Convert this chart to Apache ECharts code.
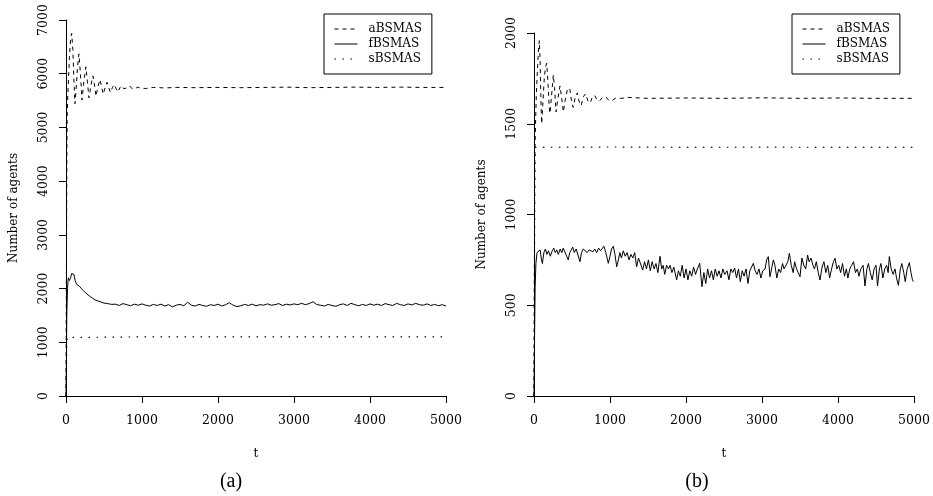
<!DOCTYPE html>
<html><head><meta charset="utf-8">
<script src="https://cdn.jsdelivr.net/npm/echarts@6/dist/echarts.min.js"></script>
<style>html,body{margin:0;padding:0;background:#fff}#c{width:933px;height:496px}</style>
</head><body><div id="c"></div>
<script>
// ---------- Panel (a) ----------
const aA_t = [0,5,10,15,20,30,45,60,75,90,105,118,135,150,170,190,210,235,262,282,302,330,355,375,395,420,447,468,490,515,540,562,585,610,635,660,685,710,735,760,785,810,840,870,900,940,980,1050,1150,1300,1450,1700,2000,2300,2600,2900,3200,3500,3800,4100,4400,4700,5000];
const aA_v = [0,2000,4200,5200,5450,5800,6300,6650,6750,6450,5850,5440,5750,6100,6370,6000,5510,5850,6130,5850,5550,5800,5960,5790,5580,5760,5890,5760,5620,5740,5840,5740,5650,5740,5800,5720,5660,5740,5780,5720,5690,5740,5770,5720,5710,5750,5730,5725,5745,5735,5745,5740,5745,5740,5745,5750,5740,5745,5750,5745,5750,5745,5745];

const aF_t = [0,5,10,20,30,45,60,75,90,105,120,140,160,180,200,230,260,290,320,350,380,420,460,500,550,600,650,700,750,800,850,900,950,1000,1050,1100,1150,1200,1250,1300,1350,1400,1450,1500,1550,1600,1650,1700,1750,1800,1850,1900,1950,2000,2050,2100,2150,2200,2250,2300,2350,2400,2450,2500,2550,2600,2650,2700,2750,2800,2850,2900,2950,3000,3050,3100,3150,3200,3250,3300,3350,3400,3450,3500,3550,3600,3650,3700,3750,3800,3850,3900,3950,4000,4050,4100,4150,4200,4250,4300,4350,4400,4450,4500,4550,4600,4650,4700,4750,4800,4850,4900,4950,5000];
const aF_v = [0,600,1500,2000,2200,2150,2200,2280,2300,2260,2150,2080,2060,2040,2000,1960,1920,1880,1850,1820,1790,1770,1750,1730,1720,1705,1710,1685,1720,1700,1680,1710,1690,1715,1690,1675,1705,1685,1710,1675,1700,1660,1690,1705,1680,1745,1690,1675,1705,1685,1670,1700,1685,1710,1675,1700,1735,1690,1665,1680,1705,1685,1710,1680,1700,1690,1715,1690,1700,1720,1685,1710,1695,1715,1700,1725,1700,1720,1755,1700,1690,1675,1705,1685,1670,1700,1715,1685,1725,1700,1680,1705,1685,1715,1690,1710,1685,1720,1700,1685,1725,1700,1685,1715,1695,1725,1700,1690,1715,1685,1705,1680,1700,1675];

const aS_t = [0,5,10,15,20,1000,2000,3000,4000,5000];
const aS_v = [0,500,1000,1090,1100,1100,1100,1100,1100,1100];

// ---------- Panel (b) ----------
const bA_t = [0,5,10,20,30,45,60,70,80,92,101,115,135,150,167,185,200,210,230,254,270,290,315,342,362,386,410,440,470,495,515,545,570,595,620,650,680,710,740,770,800,830,860,900,940,980,1020,1070,1150,1250,1500,2000,2500,3000,3500,4000,4500,5000];
const bA_v = [0,700,1300,1500,1650,1800,1920,1958,1850,1620,1500,1600,1750,1810,1833,1720,1590,1557,1650,1769,1700,1565,1640,1708,1650,1565,1630,1690,1695,1620,1590,1650,1670,1620,1600,1650,1665,1625,1615,1650,1655,1630,1625,1645,1648,1632,1625,1640,1640,1645,1640,1642,1640,1643,1640,1642,1640,1640];

const bF_t = [0,8,15,25,40,60,80,95,110,130,150,170,190,215,240,260,280,300,320,345,365,385,405,430,450,470,490,510,530,555,580,605,625,650,675,700,725,750,775,800,825,850,875,900,920,945,978,1000,1020,1044,1065,1088,1110,1130,1150,1175,1200,1225,1250,1275,1300,1325,1350,1375,1400,1430,1455,1480,1505,1530,1555,1580,1605,1630,1658,1680,1700,1720,1745,1770,1790,1815,1840,1877,1900,1925,1950,1975,2000,2025,2050,2075,2100,2125,2150,2180,2210,2235,2260,2285,2310,2335,2360,2385,2410,2435,2460,2485,2510,2540,2565,2590,2615,2640,2665,2690,2715,2740,2765,2790,2815,2840,2865,2886,2910,2935,2960,2985,3010,3040,3061,3083,3105,3125,3150,3170,3195,3220,3245,3270,3290,3315,3340,3360,3385,3410,3430,3455,3480,3500,3525,3550,3575,3600,3620,3645,3670,3690,3715,3740,3763,3790,3815,3840,3865,3890,3915,3940,3961,3985,4010,4035,4060,4085,4110,4130,4155,4180,4205,4230,4255,4275,4300,4330,4355,4380,4400,4425,4450,4475,4500,4520,4545,4565,4590,4615,4640,4660,4675,4700,4725,4750,4770,4795,4820,4840,4865,4885,4910,4939,4960,4980,4991];
const bF_v = [0,350,600,730,790,800,805,760,730,790,810,780,800,770,800,815,790,805,780,810,790,815,795,800,750,790,800,820,790,810,800,740,790,810,820,790,805,815,795,810,790,815,800,795,825,790,731,770,810,825,780,712,750,790,760,800,770,790,750,780,760,790,712,760,750,694,740,700,750,690,740,700,730,680,770,700,720,670,720,700,720,680,710,640,690,660,720,650,700,640,690,660,710,670,700,731,602,680,620,700,650,690,640,700,660,690,650,700,670,690,640,700,680,705,650,700,630,690,660,700,620,690,700,731,690,670,700,650,690,700,750,768,657,700,750,720,650,700,680,730,700,690,740,786,720,680,740,700,690,657,760,720,700,777,740,760,720,700,740,680,639,710,740,680,720,650,700,740,759,700,720,680,730,660,700,650,700,720,740,680,700,660,700,720,606,700,730,680,640,700,720,606,700,730,650,700,720,680,768,700,670,700,650,610,700,730,680,630,700,735,680,640,630];

const bS_t = [0,5,10,15,20,1000,2000,3000,4000,5000];
const bS_v = [0,500,1100,1330,1370,1372,1370,1371,1370,1370];

const seriesNames = ['aBSMAS','fBSMAS','sBSMAS'];
const xTicksMax = 5000, xStep = 1000;
const yMaxA = 7000, yStepA = 1000;
const yMaxB = 2000, yStepB = 500;

const zip = (t, v) => t.map((x, i) => [x, v[i]]);
const FONT = 'DejaVu Serif';
const plain = v => String(v);
const styles = {
  aBSMAS: {type: [4, 4], width: 1},
  fBSMAS: {type: 'solid', width: 1},
  sBSMAS: {type: [1.5, 6.5], width: 1.2}
};

function mkX(gi) {
  return {
    gridIndex: gi, type: 'value', min: 0, max: xTicksMax, interval: xStep,
    axisLine: {show: true, lineStyle: {color: '#000', width: 1}},
    axisTick: {show: true, length: 7, lineStyle: {color: '#000', width: 1}},
    splitLine: {show: false},
    axisLabel: {fontFamily: FONT, fontSize: 12.5, color: '#000', margin: 18, formatter: plain},
    name: 't', nameLocation: 'middle', nameGap: 52,
    nameTextStyle: {fontFamily: FONT, fontSize: 12, color: '#000'}
  };
}
function mkY(gi, max, step) {
  return {
    gridIndex: gi, type: 'value', min: 0, max: max, interval: step,
    axisLine: {show: true, lineStyle: {color: '#000', width: 1}},
    axisTick: {show: true, length: 7, lineStyle: {color: '#000', width: 1}},
    splitLine: {show: false},
    axisLabel: {fontFamily: FONT, fontSize: 12.5, color: '#000', margin: 16, rotate: 90, formatter: plain},
    name: 'Number of agents', nameLocation: 'middle', nameGap: 46,
    nameTextStyle: {fontFamily: FONT, fontSize: 12, color: '#000'}
  };
}
function mkS(name, gi, t, v) {
  return {
    name: name, type: 'line', xAxisIndex: gi, yAxisIndex: gi,
    data: zip(t, v), symbol: 'none', showSymbol: false, smooth: false,
    lineStyle: Object.assign({color: '#000'}, styles[name]),
    itemStyle: {color: '#000'}, emphasis: {disabled: true}
  };
}
function mkLegend(left) {
  return {
    data: seriesNames, orient: 'vertical', left: left, top: 14,
    borderColor: '#000', borderWidth: 1, padding: [9, 10, 9, 10],
    itemWidth: 23, itemHeight: 12, itemGap: 3, selectedMode: false,
    itemStyle: {opacity: 0},
    lineStyle: {width: 1, color: '#000'},
    textStyle: {fontFamily: FONT, fontSize: 12, color: '#000', padding: [0, 0, 0, 6]}
  };
}

const chart = echarts.init(document.getElementById('c'), null, {renderer: 'canvas'});
chart.setOption({
  animation: false,
  backgroundColor: '#fff',
  grid: [
    {left: 66, top: 20, width: 380, height: 376},
    {left: 534, top: 33, width: 380, height: 363}
  ],
  xAxis: [mkX(0), mkX(1)],
  yAxis: [mkY(0, yMaxA, yStepA), mkY(1, yMaxB, yStepB)],
  legend: [mkLegend(324), mkLegend(792)],
  series: [
    mkS('aBSMAS', 0, aA_t, aA_v),
    mkS('fBSMAS', 0, aF_t, aF_v),
    mkS('sBSMAS', 0, aS_t, aS_v),
    mkS('aBSMAS', 1, bA_t, bA_v),
    mkS('fBSMAS', 1, bF_t, bF_v),
    mkS('sBSMAS', 1, bS_t, bS_v)
  ],
  graphic: [
    {type: 'text', x: 231, y: 482, style: {text: '(a)', font: '20px "Liberation Serif"', fill: '#000', align: 'center', verticalAlign: 'middle'}},
    {type: 'text', x: 697, y: 482, style: {text: '(b)', font: '20px "Liberation Serif"', fill: '#000', align: 'center', verticalAlign: 'middle'}}
  ]
});
</script></body></html>
